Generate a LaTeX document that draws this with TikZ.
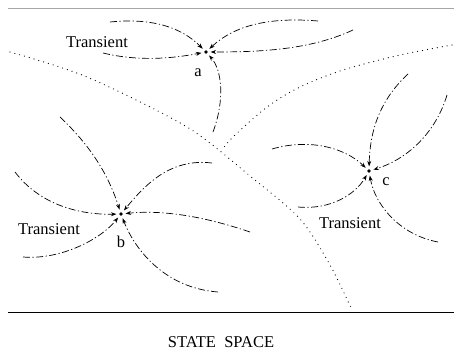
\documentclass[tikz,border=0pt]{standalone}
\usepackage{fontspec}
\setmainfont{Liberation Serif}
\usetikzlibrary{arrows.meta}
\begin{document}
\begin{tikzpicture}[x=1pt,y=-1pt,
  traj/.style={line width=0.7pt, dash pattern=on 7pt off 2.5pt on 1.2pt off 2.5pt, -{Stealth[length=5.5pt,width=4pt]}, shorten >=2.5pt},
  sep/.style={line width=1.2pt, line cap=round, dash pattern=on 0pt off 5pt},
  att/.style={circle, fill=black, inner sep=0pt, minimum size=3.8pt},
  lab/.style={font=\fontsize{16.5}{19}\selectfont, inner sep=0pt}]
\useasboundingbox (0,0) rectangle (454,352);
\draw[gray!70, line width=1pt] (8,9) -- (454,9);
\draw[black, line width=1pt] (8,312) -- (454,312);
\node[lab] (title) at (221,342) {STATE\ \ SPACE};
% separatrices
\draw[sep] plot[smooth] coordinates {(10,52) (87,77) (187,127) (250,176) (300,219) (330,265) (352,310)};
\draw[sep] plot[smooth] coordinates {(452,45) (400,55) (343,70) (300,87) (267,107) (233,137) (222,150)};
% attractors
\node[att] (a) at (206,52) {};
\node[att] (b) at (121,214) {};
\node[att] (c) at (369,171) {};
\node[lab] (la) at (198,73) {a};
\node[lab] (lb) at (121,242) {b};
\node[lab] (lc) at (386,182) {c};
\node[lab] (ta) at (97,42) {Transient};
\node[lab] (tb) at (49,229) {Transient};
\node[lab] (tc) at (350,223) {Transient};
% start points
\coordinate (a1) at (110,22); \coordinate (a2) at (318,21); \coordinate (a3) at (353,30);
\coordinate (a4) at (103,53); \coordinate (a5) at (213,132);
\coordinate (b1) at (15,172); \coordinate (b2) at (60,117); \coordinate (b3) at (212,163);
\coordinate (b4) at (250,232); \coordinate (b5) at (218,292); \coordinate (b6) at (23,257);
\coordinate (c1) at (272,149); \coordinate (c2) at (408,74); \coordinate (c3) at (447,95);
\coordinate (c4) at (298,207); \coordinate (c5) at (438,242);
% trajectories into a
\draw[traj] (a1) .. controls (150,18) and (180,26) .. (a);
\draw[traj] (a2) .. controls (270,17) and (235,25) .. (a);
\draw[traj] (a3) .. controls (310,50) and (260,52) .. (a);
\draw[traj] (a4) .. controls (140,62) and (175,58) .. (a);
\draw[traj] (a5) .. controls (225,100) and (222,70) .. (a);
% into b
\draw[traj] (b1) .. controls (40,205) and (80,215) .. (b);
\draw[traj] (b2) .. controls (95,150) and (110,180) .. (b);
\draw[traj] (b3) .. controls (170,158) and (145,185) .. (b);
\draw[traj] (b4) .. controls (200,215) and (160,210) .. (b);
\draw[traj] (b5) .. controls (165,288) and (135,250) .. (b);
\draw[traj] (b6) .. controls (60,260) and (100,240) .. (b);
% into c
\draw[traj] (c1) .. controls (310,138) and (345,148) .. (c);
\draw[traj] (c2) .. controls (380,100) and (370,130) .. (c);
\draw[traj] (c3) .. controls (435,135) and (405,160) .. (c);
\draw[traj] (c4) .. controls (330,210) and (355,195) .. (c);
\draw[traj] (c5) .. controls (400,235) and (375,205) .. (c);
\end{tikzpicture}
\end{document}
